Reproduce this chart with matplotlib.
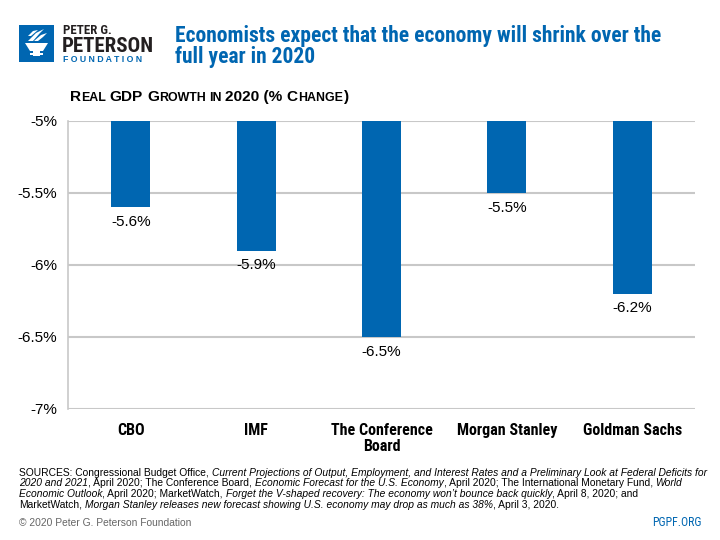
import numpy as np
import matplotlib
matplotlib.use('Agg')
import matplotlib.pyplot as plt
from matplotlib.patches import Rectangle, Polygon

# data
forecasters = ['CBO', 'IMF', 'The Conference\nBoard', 'Morgan Stanley', 'Goldman Sachs']
growth = [-5.6, -5.9, -6.5, -5.5, -6.2]
yticks = [-5, -5.5, -6, -6.5, -7]
ytick_labels = ['-5%', '-5.5%', '-6%', '-6.5%', '-7%']
value_labels = ['-5.6%', '-5.9%', '-6.5%', '-5.5%', '-6.2%']

blue = '#0066b1'
narrow = ['Roboto Condensed', 'DejaVu Sans']
plain = ['Liberation Sans', 'DejaVu Sans']
W, H = 720, 540

fig = plt.figure(figsize=(7.2, 5.4), dpi=100)
renderer = fig.canvas.get_renderer()


def fx(x):
    return x / W


def fy(y):
    return 1 - y / H


def space_width(props):
    a = fig.text(0, 0, 'a a', **props)
    b = fig.text(0, 0, 'aa', **props)
    w = a.get_window_extent(renderer).width - b.get_window_extent(renderer).width
    a.remove()
    b.remove()
    return w


def draw_runs(x, y, runs):
    # place text pieces one after another on a common baseline (pixel coords)
    arts = []
    for txt, props in runs:
        stripped = txt.rstrip(' ')
        if stripped:
            t = fig.text(fx(x), fy(y), stripped, va='baseline', ha='left', **props)
            arts.append(t)
            x += t.get_window_extent(renderer).width
        n = len(txt) - len(stripped)
        if n:
            x += n * space_width(props)
    return x, arts


def scaled(runs, k):
    return [(t, dict(p, fontsize=p['fontsize'] * k)) for t, p in runs]


# header: logo
def white_poly(pts):
    fig.patches.append(Polygon([[fx(a), fy(b)] for a, b in pts], closed=True,
                               transform=fig.transFigure, facecolor='white', edgecolor='none'))


fig.patches.append(Rectangle((fx(19), fy(62)), fx(35), 37 / H, transform=fig.transFigure,
                             facecolor=blue, edgecolor='none'))
white_poly([(25, 43), (48, 43), (43, 51), (30, 51)])
white_poly([(33, 51), (40, 51), (40, 56), (33, 56)])
white_poly([(30, 53), (43, 53), (43, 55), (30, 55)])
white_poly([(28, 41), (36, 33), (44, 29), (40, 33), (33, 41)])
white_poly([(34, 41), (41, 35), (47, 33), (43, 37), (38, 41)])
white_poly([(28, 36), (33, 31), (38, 30), (31, 36)])
fig.text(fx(63), fy(33.5), 'PETER G.', family=narrow, fontweight='bold', fontsize=9.3, color='#231f20')
fig.text(fx(62), fy(51.5), 'PETERSON', family=narrow, fontweight='bold', fontsize=15, color='#231f20')
fig.text(fx(63), fy(62.5), 'F O U N D A T I O N', family=plain, fontweight='bold', fontsize=6.3, color=blue)

# title
fig.text(fx(175), fy(42), 'Economists expect that the economy will shrink over the',
         family=narrow, fontweight='bold', fontsize=15.5, color=blue, va='baseline')
fig.text(fx(175), fy(63), 'full year in 2020',
         family=narrow, fontweight='bold', fontsize=15.5, color=blue, va='baseline')

# subtitle in small caps, fitted to the reference width
big = dict(family=plain, fontweight='bold', fontsize=9.5, color='black')
small = dict(family=plain, fontweight='bold', fontsize=7.6, color='black')
sub_runs = [('R', big), ('EAL ', small), ('GDP ', big), ('G', big), ('ROWTH ', small),
            ('IN ', small), ('2020 (% ', big), ('C', big), ('HANGE', small), (')', big)]
end, arts = draw_runs(70, 101, sub_runs)
for a in arts:
    a.remove()
draw_runs(70, 101, scaled(sub_runs, (347 - 70) / (end - 70)))

# chart
ax = fig.add_axes([fx(68), fy(409), fx(695 - 68), (409 - 121) / H])
x = np.arange(len(forecasters))
base = yticks[0]
ax.bar(x, np.array(growth) - base, bottom=base, width=0.31, color=blue, zorder=3)
for xi, v, lab in zip(x, growth, value_labels):
    ax.annotate(lab, (xi, v), xytext=(0, -5.5), textcoords='offset points', ha='center', va='top',
                family=plain, fontsize=11, color='black')
ax.set_xlim(-0.5, len(forecasters) - 0.5)
ax.set_ylim(-7, -5)
ax.set_yticks(yticks)
ax.set_yticklabels(ytick_labels, family=plain, fontsize=11)
ax.set_xticks(x)
ax.set_xticklabels(forecasters, family=narrow, fontweight='bold', fontsize=11.5, linespacing=1.1)
ax.tick_params(length=0)
ax.tick_params(axis='y', pad=8)
ax.tick_params(axis='x', pad=10)
ax.yaxis.grid(True, color='#c8c8c8', linewidth=1.5, zorder=0)
for s in ['top', 'right', 'bottom']:
    ax.spines[s].set_visible(False)
ax.spines['left'].set_color('#c8c8c8')
ax.spines['left'].set_linewidth(1.2)

# sources
reg = dict(family=plain, fontsize=7.6, color='black')
ita = dict(family=plain, fontsize=7.6, color='black', style='italic')
lines = [
    [('SOURCES: Congressional Budget Office, ', reg),
     ('Current Projections of Output, Employment, and Interest Rates and a Preliminary Look at Federal Deficits for', ita)],
    [('2020 and 2021', ita), (', April 2020; The Conference Board, ', reg),
     ('Economic Forecast for the U.S. Economy', ita), (', April 2020; The International Monetary Fund, ', reg),
     ('World', ita)],
    [('Economic Outlook', ita), (', April 2020; MarketWatch, ', reg),
     ('Forget the V-shaped recovery: The economy won\u2019t bounce back quickly', ita),
     (', April 8, 2020; and', reg)],
    [('MarketWatch, ', reg),
     ('Morgan Stanley releases new forecast showing U.S. economy may drop as much as 38%', ita),
     (', April 3, 2020.', reg)],
]
end, arts = draw_runs(19, 476, lines[0])
for a in arts:
    a.remove()
k = (705 - 19) / (end - 19)
for i, runs in enumerate(lines):
    draw_runs(19, 476 + i * 10.5, scaled(runs, k))

fig.text(fx(19), fy(526), '\u00a9 2020 Peter G. Peterson Foundation', family=plain, fontsize=7.6 * k,
         color='#666666', va='baseline')
fig.text(fx(702), fy(526), 'PGPF.ORG', family=narrow, fontsize=8.6, color=blue, va='baseline', ha='right')

fig.savefig('out.png', dpi=100)
